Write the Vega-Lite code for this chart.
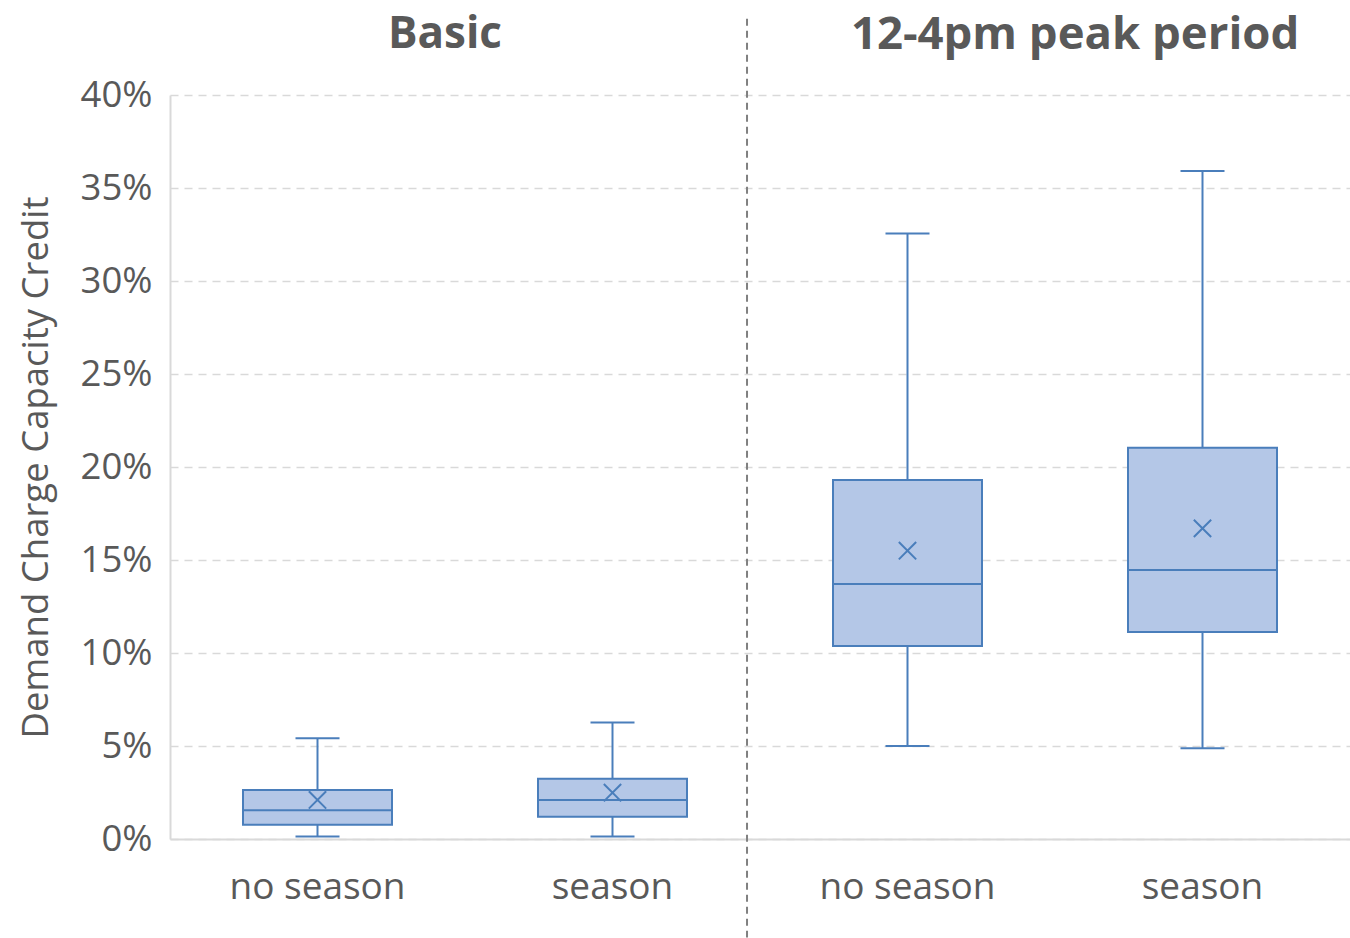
{
  "$schema": "https://vega.github.io/schema/vega-lite/v6.json",
  "width": 1180,
  "height": 744,
  "autosize": {"type": "none"},
  "padding": {"left": 170, "top": 95, "right": 0, "bottom": 99},
  "background": "white",
  "config": {
    "view": {"stroke": null},
    "font": "Open Sans"
  },
  "datasets": {
    "boxes": [
      {"key": "Basic|no season", "min": 0.0014, "q1": 0.0077, "median": 0.0154, "q3": 0.0263, "max": 0.0541, "mean": 0.021},
      {"key": "Basic|season", "min": 0.0014, "q1": 0.012, "median": 0.021, "q3": 0.0324, "max": 0.0627, "mean": 0.0249},
      {"key": "Peak|no season", "min": 0.05, "q1": 0.1038, "median": 0.1371, "q3": 0.193, "max": 0.3256, "mean": 0.155},
      {"key": "Peak|season", "min": 0.0488, "q1": 0.1113, "median": 0.1446, "q3": 0.2104, "max": 0.3591, "mean": 0.167}
    ],
    "divider": [
      {"key": "Basic|season", "top": 0.441, "bottom": -0.053}
    ],
    "titles": [
      {"key": "Basic|no season", "label": "Basic", "y": 0.4322},
      {"key": "Peak|no season", "label": "12-4pm peak period", "y": 0.4322}
    ]
  },
  "encoding": {
    "x": {
      "field": "key",
      "type": "nominal",
      "sort": ["Basic|no season", "Basic|season", "Peak|no season", "Peak|season"],
      "scale": {"domain": ["Basic|no season", "Basic|season", "Peak|no season", "Peak|season"], "paddingInner": 0, "paddingOuter": 0},
      "axis": {
        "title": null,
        "labelExpr": "split(datum.label, '|')[1]",
        "labelAngle": 0,
        "labelFontSize": 37,
        "labelColor": "#595959",
        "labelPadding": 30,
        "ticks": false,
        "domainColor": "#d9d9d9",
        "domainWidth": 2,
        "grid": false
      }
    }
  },
  "layer": [
    {
      "data": {"name": "boxes"},
      "mark": {"type": "rule", "color": "#4a7ebb", "strokeWidth": 2},
      "encoding": {
        "y": {
          "field": "min",
          "type": "quantitative",
          "scale": {"domain": [0, 0.4], "nice": false, "zero": false},
          "axis": {
            "title": "Demand Charge Capacity Credit",
            "titleFontSize": 36.5,
            "titleFontWeight": "normal",
            "titleColor": "#595959",
            "titleX": -134,
            "titleY": 372,
            "titleAngle": -90,
            "titleAlign": "center",
            "titleBaseline": "middle",
            "values": [0, 0.05, 0.1, 0.15, 0.2, 0.25, 0.3, 0.35, 0.4],
            "format": ".0%",
            "labelFontSize": 36.5,
            "labelColor": "#595959",
            "labelPadding": 18,
            "ticks": false,
            "domainColor": "#d9d9d9",
            "domainWidth": 2,
            "grid": true,
            "gridColor": "#d9d9d9",
            "gridDash": [8, 6],
            "gridWidth": 1.5
          }
        },
        "y2": {"field": "max"}
      }
    },
    {
      "data": {"name": "boxes"},
      "mark": {"type": "bar", "size": 149, "fill": "#b4c7e7", "stroke": "#4a7ebb", "strokeWidth": 2},
      "encoding": {
        "y": {"field": "q1", "type": "quantitative"},
        "y2": {"field": "q3"}
      }
    },
    {
      "data": {"name": "boxes"},
      "mark": {"type": "tick", "size": 149, "thickness": 2, "color": "#4a7ebb", "opacity": 1},
      "encoding": {
        "y": {"field": "median", "type": "quantitative"}
      }
    },
    {
      "data": {"name": "boxes"},
      "mark": {"type": "tick", "size": 44, "thickness": 2, "color": "#4a7ebb", "opacity": 1},
      "encoding": {
        "y": {"field": "min", "type": "quantitative"}
      }
    },
    {
      "data": {"name": "boxes"},
      "mark": {"type": "tick", "size": 44, "thickness": 2, "color": "#4a7ebb", "opacity": 1},
      "encoding": {
        "y": {"field": "max", "type": "quantitative"}
      }
    },
    {
      "data": {"name": "boxes"},
      "mark": {"type": "point", "shape": "M-1,-1L1,1M-1,1L1,-1", "size": 300, "stroke": "#4a7ebb", "strokeWidth": 2, "filled": false, "opacity": 1},
      "encoding": {
        "y": {"field": "mean", "type": "quantitative"}
      }
    },
    {
      "data": {"name": "divider"},
      "mark": {"type": "rule", "color": "#808080", "strokeWidth": 2, "strokeDash": [7, 5]},
      "encoding": {
        "x": {"field": "key", "type": "nominal", "bandPosition": 0.956},
        "y": {"field": "top", "type": "quantitative"},
        "y2": {"field": "bottom"}
      }
    },
    {
      "data": {"name": "titles"},
      "transform": [{"filter": "datum.label == 'Basic'"}],
      "mark": {"type": "text", "fontSize": 44, "fontWeight": "bold", "color": "#595959", "align": "center", "baseline": "middle"},
      "encoding": {
        "x": {"field": "key", "type": "nominal", "bandPosition": 0.932},
        "y": {"field": "y", "type": "quantitative"},
        "text": {"field": "label"}
      }
    },
    {
      "data": {"name": "titles"},
      "transform": [{"filter": "datum.label != 'Basic'"}],
      "mark": {"type": "text", "fontSize": 45.5, "fontWeight": "bold", "color": "#595959", "align": "center", "baseline": "middle"},
      "encoding": {
        "x": {"field": "key", "type": "nominal", "bandPosition": 1.068},
        "y": {"field": "y", "type": "quantitative"},
        "text": {"field": "label"}
      }
    }
  ]
}
